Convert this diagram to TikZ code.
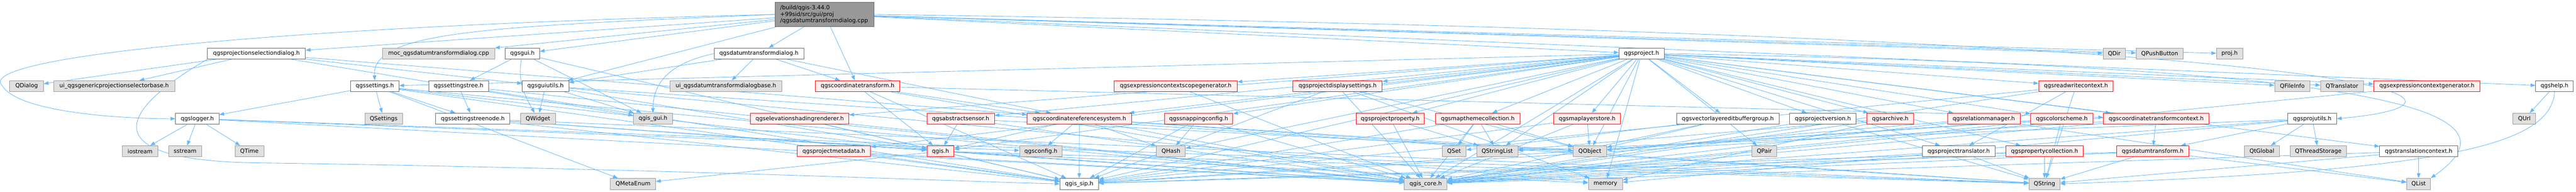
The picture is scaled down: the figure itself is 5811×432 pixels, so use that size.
\documentclass[tikz,border=0pt]{standalone}
\usepackage{fontspec}
\setmainfont{DejaVu Sans}
\usetikzlibrary{arrows.meta}

\definecolor{edgeblue}{HTML}{63B8FF}
\definecolor{rootfill}{HTML}{999999}
\definecolor{rootline}{HTML}{666666}
\definecolor{extfill}{HTML}{E0E0E0}
\definecolor{extline}{HTML}{999999}
\definecolor{trunfill}{HTML}{FFF0F0}

\pgfdeclarelayer{background}
\pgfsetlayers{background,main}

\tikzset{
  hdr/.style={draw=rootline, fill=white, line width=1pt, minimum height=25, inner sep=0pt,
    font=\fontsize{12.8}{15}\selectfont},
  ext/.style={hdr, draw=extline, fill=extfill},
  trunc/.style={hdr, draw=red, fill=trunfill},
  dep/.style={draw=edgeblue, line width=1pt, -{Triangle[length=11pt,width=8pt]}}
}

\begin{document}
\begin{tikzpicture}[x=1pt, y=-1pt]

    % Fix the page to the size of the graph (pixel units, y downwards)
    \useasboundingbox (0,0) rectangle (5811,432);

    % The file itself
    \node[hdr, fill=rootfill, minimum width=223, minimum height=55, text width=201, align=left]
      (root) at (1860.5,32.5) {/build/qgis-3.44.0\\+99sid/src/gui/proj\\/qgsdatumtransformdialog.cpp};

    % First level of includes
    \node[hdr, minimum width=221] (projsel) at (578.5,120.7) {qgsprojectionselectiondialog.h};
    \node[ext, minimum width=253] (moc) at (989.5,120.7) {moc\_qgsdatumtransformdialog.cpp};
    \node[hdr, minimum width=77] (gui) at (1178.5,120.7) {qgsgui.h};
    \node[hdr, minimum width=202] (dtdlg) at (1712,120.7) {qgsdatumtransformdialog.h};
    \node[hdr, minimum width=102] (project) at (3703,120.7) {qgsproject.h};
    \node[ext, minimum width=51] (qdir) at (4769.5,120.7) {QDir};
    \node[ext, minimum width=106] (qpush) at (4872,120.7) {QPushButton};
    \node[ext, minimum width=59] (projh) at (5029.5,120.7) {proj.h};

    % Second level
    \node[ext, minimum width=76] (qdialog) at (60,194) {QDialog};
    \node[ext, minimum width=273] (uigen) at (257.5,194) {ui\_qgsgenericprojectionselectorbase.h};
    \node[hdr, minimum width=109] (settings) at (845.5,194) {qgssettings.h};
    \node[hdr, minimum width=135] (settree) at (1034.5,194) {qgssettingstree.h};
    \node[hdr, minimum width=105] (guiutils) at (1230.5,194) {qgsguiutils.h};
    \node[ext, minimum width=253] (uidt) at (1637.5,194) {ui\_qgsdatumtransformdialogbase.h};
    \node[trunc, minimum width=191] (ctrans) at (1934.5,194) {qgscoordinatetransform.h};
    \node[trunc, minimum width=278] (exscope) at (2652,194) {qgsexpressioncontextscopegenerator.h};
    \node[trunc, minimum width=201] (projdisp) at (3017.5,194) {qgsprojectdisplaysettings.h};
    \node[trunc, minimum width=168] (rwctx) at (4683,194) {qgsreadwritecontext.h};
    \node[ext, minimum width=80] (qfileinfo) at (5171,194) {QFileInfo};
    \node[ext, minimum width=96] (qtransl) at (5283,194) {QTranslator};
    \node[trunc, minimum width=239] (exctx) at (5474.5,194) {qgsexpressioncontextgenerator.h};
    \node[hdr, minimum width=85] (help) at (5762.5,194) {qgshelp.h};

    % Third level
    \node[hdr, minimum width=98] (logger) at (445,267.3) {qgslogger.h};
    \node[ext, minimum width=85] (qsettings) at (865.5,267.3) {QSettings};
    \node[hdr, minimum width=167] (treenode) at (1066.5,267.3) {qgssettingstreenode.h};
    \node[ext, minimum width=79] (qwidget) at (1213.5,267.3) {QWidget};
    \node[ext, minimum width=88] (qgisgui) at (1473,267.3) {qgis\_gui.h};
    \node[trunc, minimum width=222] (elevshade) at (1804,267.3) {qgselevationshadingrenderer.h};
    \node[trunc, minimum width=152] (sensor) at (2167,267.3) {qgsabstractsensor.h};
    \node[trunc, minimum width=236] (crs) at (2435,267.3) {qgscoordinatereferencesystem.h};
    \node[trunc, minimum width=154] (snapping) at (2704,267.3) {qgssnappingconfig.h};
    \node[trunc, minimum width=154] (projprop) at (3136,267.3) {qgsprojectproperty.h};
    \node[trunc, minimum width=191] (mapthemes) at (3333.5,267.3) {qgsmapthemecollection.h};
    \node[trunc, minimum width=152] (layerstore) at (3580,267.3) {qgsmaplayerstore.h};
    \node[hdr, minimum width=231] (editbuf) at (3897.5,267.3) {qgsvectorlayereditbuffergroup.h};
    \node[hdr, minimum width=150] (projver) at (4112,267.3) {qgsprojectversion.h};
    \node[trunc, minimum width=106] (archive) at (4264,267.3) {qgsarchive.h};
    \node[trunc, minimum width=164] (relmgr) at (4475,267.3) {qgsrelationmanager.h};
    \node[trunc, minimum width=140] (colors) at (4651,267.3) {qgscolorscheme.h};
    \node[trunc, minimum width=238] (ctctx) at (4864,267.3) {qgscoordinatetransformcontext.h};
    \node[hdr, minimum width=110] (projutils) at (5216,267.3) {qgsprojutils.h};
    \node[ext, minimum width=51] (qurl) at (5694.5,267.3) {QUrl};

    % Fourth level
    \node[ext, minimum width=80] (iostream) at (316,340.7) {iostream};
    \node[ext, minimum width=75] (sstream) at (417.5,340.7) {sstream};
    \node[ext, minimum width=65] (qtime) at (562.5,340.7) {QTime};
    \node[trunc, minimum width=166] (projmeta) at (1881,340.7) {qgsprojectmetadata.h};
    \node[trunc, minimum width=61] (qgish) at (2121.5,340.7) {qgis.h};
    \node[ext, minimum width=96] (qgsconfig) at (2348,340.7) {qgsconfig.h};
    \node[ext, minimum width=65] (qhash) at (2641.5,340.7) {QHash};
    \node[ext, minimum width=54] (qset) at (3280,340.7) {QSet};
    \node[ext, minimum width=93] (qstrlist) at (3377.5,340.7) {QStringList};
    \node[ext, minimum width=75] (qobject) at (3586.5,340.7) {QObject};
    \node[ext, minimum width=56] (qpair) at (3980,340.7) {QPair};
    \node[hdr, minimum width=163] (projtr) at (4418.5,340.7) {qgsprojecttranslator.h};
    \node[trunc, minimum width=174] (propcoll) at (4612,340.7) {qgspropertycollection.h};
    \node[trunc, minimum width=162] (datumtr) at (4856,340.7) {qgsdatumtransform.h};
    \node[ext, minimum width=79] (qtglobal) at (5102.5,340.7) {QtGlobal};
    \node[ext, minimum width=127] (qthreadst) at (5229.5,340.7) {QThreadStorage};
    \node[hdr, minimum width=176] (transctx) at (5456,340.7) {qgstranslationcontext.h};

    % Bottom row
    \node[ext, minimum width=102] (qmetaenum) at (1428,414) {QMetaEnum};
    \node[hdr, minimum width=87] (qgissip) at (2434.5,414) {qgis\_sip.h};
    \node[ext, minimum width=96] (qgiscore) at (3216,414) {qgis\_core.h};
    \node[ext, minimum width=77] (memory) at (3621.5,414) {memory};
    \node[ext, minimum width=70] (qstring) at (4612,414) {QString};
    \node[ext, minimum width=54] (qlist) at (5456,414) {QList};

    \begin{pgfonlayer}{background}
    % Includes of the .cpp file
    \foreach \t in {dtdlg,moc,ctrans,projsel,gui,guiutils,project,qdir,qpush,projh,help}
      \draw[dep] (root) -- (\t);
    \draw[dep] (root.west) .. controls (600,60) and (-60,130) .. (5,193)
      .. controls (40,250) and (250,267) .. (logger.west);
    \draw[dep] (root.west) .. controls (1100,60) and (838,70) .. (settings.north);
    \draw[dep] (root.east) .. controls (5450,80) and (5680,230) .. (projutils.east);

    % Dialog headers
    \foreach \t in {qdialog,uigen,qgisgui,crs,guiutils}
      \draw[dep] (projsel) -- (\t);
    \draw[dep] (projsel.south west) .. controls (250,260) and (220,365) .. (600,367)
      .. controls (1500,380) and (2200,410) .. (qgissip.west);
    \foreach \t in {qgisgui,settree,qgissip}
      \draw[dep] (gui) -- (\t);
    \draw[dep] (gui) to[out=-100,in=120] (qwidget);
    \foreach \t in {uidt,ctrans,crs,guiutils}
      \draw[dep] (dtdlg) -- (\t);
    \draw[dep] (dtdlg.west) .. controls (1520,140) and (1473,180) .. (qgisgui.north);

    % qgsproject.h fans out
    \foreach \t in {settings,exscope,projdisp,elevshade,sensor,crs,snapping,projprop,mapthemes,
                    layerstore,editbuf,projver,archive,relmgr,colors,ctctx,rwctx,qfileinfo,qtransl,
                    exctx,projmeta,qgish,qhash,qstrlist,qobject,qpair,projtr,propcoll,transctx,
                    qgiscore,qgissip,memory}
      \draw[dep] (project) -- (\t);
    \draw[dep] (project.east) .. controls (5400,150) and (5700,250) .. (qlist.north east);

    % Second level headers
    \foreach \t in {qsettings,logger,treenode,qgiscore,qgissip,qmetaenum,qgish}
      \draw[dep] (settings) -- (\t);
    \foreach \t in {treenode,qgiscore,qgissip}
      \draw[dep] (settree) -- (\t);
    \foreach \t in {qwidget,qgisgui,qgish,memory,qstring}
      \draw[dep] (guiutils) -- (\t);
    \foreach \t in {crs,ctctx,qgiscore,qgissip,qgish}
      \draw[dep] (ctrans) -- (\t);
    \draw[dep] (exscope) -- (qgiscore);
    \foreach \t in {qgiscore,qgissip,qobject,memory}
      \draw[dep] (projdisp) -- (\t);
    \foreach \t in {projtr,qgiscore,qstring,qgissip}
      \draw[dep] (rwctx) -- (\t);
    \draw[dep] (exctx) -- (qgiscore);
    \draw[dep] (help) -- (qurl);
    \draw[dep] (help.south) .. controls (5755,330) and (5500,385) .. (qstring.east);

    % Third level headers
    \foreach \t in {iostream,sstream,qtime,qgiscore,qgsconfig,qstring}
      \draw[dep] (logger) -- (\t);
    \foreach \t in {qgiscore,qgissip,qgish,qstring}
      \draw[dep] (treenode) -- (\t);
    \foreach \t in {qgiscore,qgish}
      \draw[dep] (elevshade) -- (\t);
    \foreach \t in {qgish,qgiscore,qobject}
      \draw[dep] (sensor) -- (\t);
    \foreach \t in {qgish,qgsconfig,qgissip,qhash,qgiscore,qstring,qobject}
      \draw[dep] (crs) -- (\t);
    \foreach \t in {qhash,qgiscore,qgissip}
      \draw[dep] (snapping) -- (\t);
    \foreach \t in {qgiscore,qstrlist}
      \draw[dep] (projprop) -- (\t);
    \foreach \t in {qgiscore,qset,qstrlist,qobject,qgissip}
      \draw[dep] (mapthemes) -- (\t);
    \foreach \t in {qobject,qgiscore,qgissip}
      \draw[dep] (layerstore) -- (\t);
    \foreach \t in {qset,qobject,qgiscore}
      \draw[dep] (editbuf) -- (\t);
    \foreach \t in {qgiscore,qstring}
      \draw[dep] (projver) -- (\t);
    \foreach \t in {qgiscore,qstrlist,memory}
      \draw[dep] (archive) -- (\t);
    \foreach \t in {qgiscore,qobject,qlist}
      \draw[dep] (relmgr) -- (\t);
    \foreach \t in {qstring,qgiscore,qgissip,qobject}
      \draw[dep] (colors) -- (\t);
    \foreach \t in {datumtr,qgiscore,qgissip}
      \draw[dep] (ctctx) -- (\t);
    \foreach \t in {qtglobal,qthreadst,datumtr,qgiscore,memory,qstrlist}
      \draw[dep] (projutils) -- (\t);

    % Fourth level headers
    \foreach \t in {qgiscore,qgissip}
      \draw[dep] (projmeta) -- (\t);
    \foreach \t in {qmetaenum,qgiscore,qgissip,qstring,memory}
      \draw[dep] (qgish) -- (\t);
    \foreach \t in {qstring,qgiscore}
      \draw[dep] (projtr) -- (\t);
    \foreach \t in {qstring,qgiscore,qgissip}
      \draw[dep] (propcoll) -- (\t);
    \foreach \t in {qstring,qgiscore,qgissip,qlist}
      \draw[dep] (datumtr) -- (\t);
    \foreach \t in {qlist,qgiscore,qstring}
      \draw[dep] (transctx) -- (\t);
    \end{pgfonlayer}

\end{tikzpicture}
\end{document}
